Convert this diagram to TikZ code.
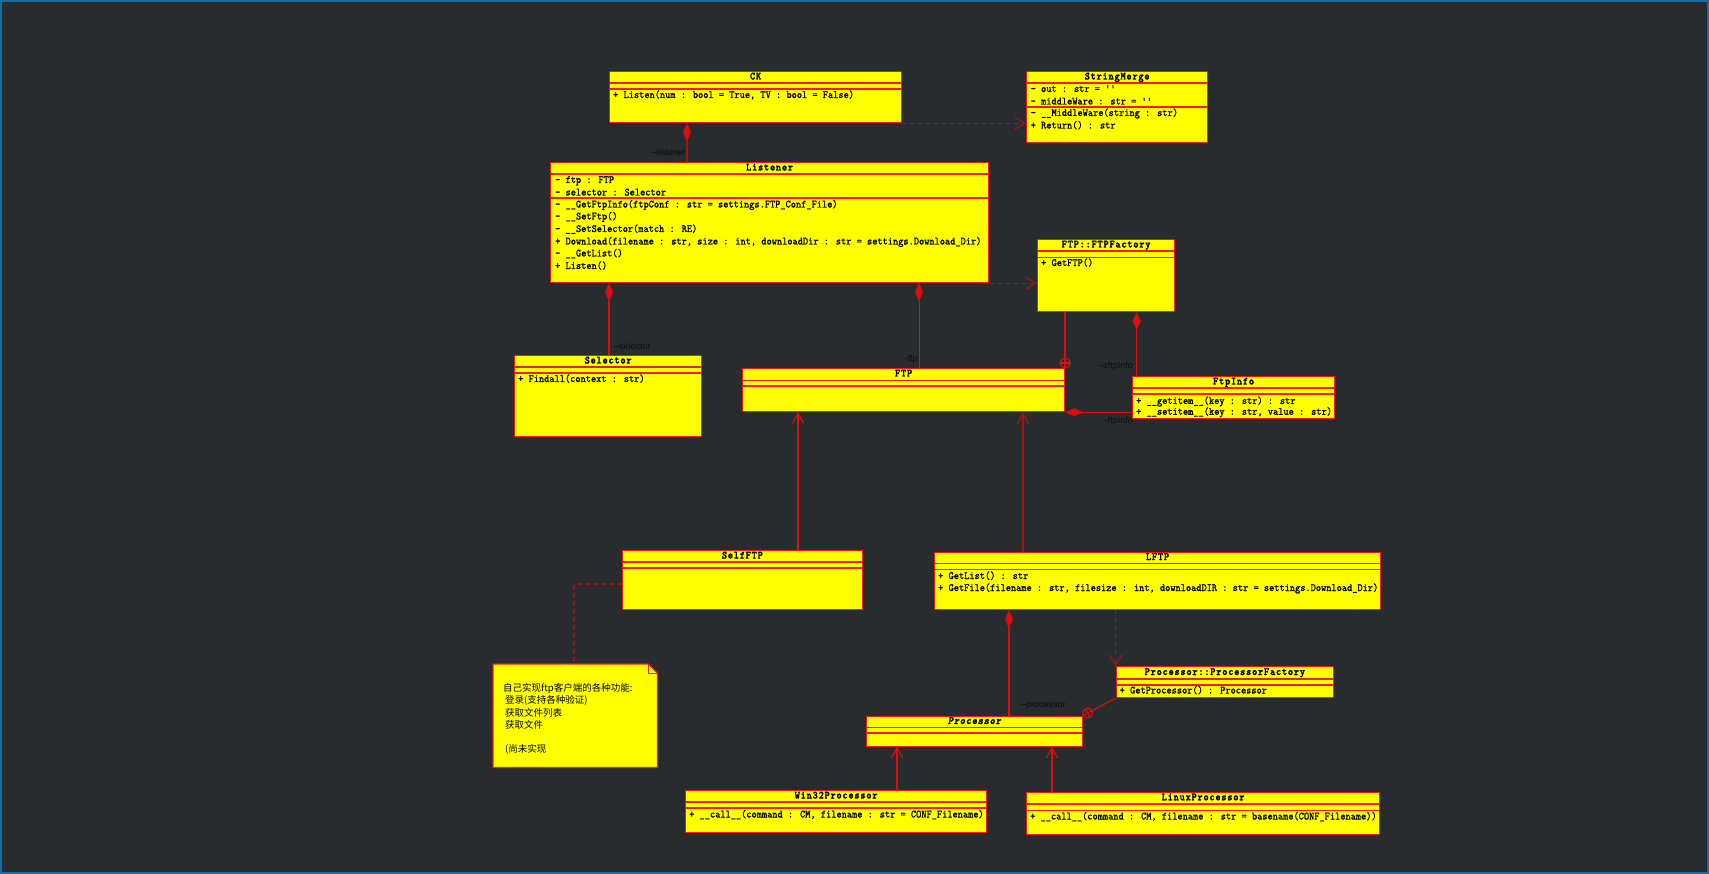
\documentclass[tikz,border=0pt]{standalone}
\usepackage{fontspec}
\usetikzlibrary{arrows.meta,calc}
\newfontfamily\cjkfont{Noto Sans CJK SC}
\newfontfamily\labfont{Liberation Sans}
\newfontfamily\umlfont[FakeStretch=0.9, FakeBold=1.2]{lmmono10-regular.otf}
\newfontfamily\umlbold[FakeStretch=0.9, FakeBold=2, LetterSpace=7]{lmmonolt10-bold.otf}
\newfontfamily\umlboldit[FakeStretch=0.9, FakeBold=2, LetterSpace=7, FakeSlant=0.2]{lmmonolt10-bold.otf}
\definecolor{bgc}{RGB}{40,44,47}
\definecolor{framec}{RGB}{22,108,165}
\definecolor{boxfill}{RGB}{255,255,0}
\definecolor{boxline}{RGB}{238,28,8}
\definecolor{connred}{RGB}{225,12,12}
\definecolor{conndark}{RGB}{160,22,22}
\definecolor{labc}{RGB}{12,12,12}
\tikzset{
 classbox/.style={draw=boxline, fill=boxfill, line width=1.2pt, inner sep=0pt, anchor=north west},
 sepline/.style={draw=boxline, line width=1.2pt},
 rowtext/.style={font=\umlfont\fontsize{11}{12}\selectfont, inner sep=0pt, anchor=west, text height=7pt, text depth=2pt, text=black},
 titletext/.style={font=\umlbold\fontsize{11}{12}\selectfont, inner sep=0pt, text height=7pt, text depth=2pt, text=black},
 roletext/.style={font=\labfont\fontsize{9}{10}\selectfont, text=labc, inner sep=0pt},
 notetext/.style={font=\cjkfont\fontsize{9.5}{11}\selectfont, text=black, inner sep=0pt, anchor=west},
 conn/.style={draw=connred, line width=1.1pt},
 compo/.style={conn, {Diamond[length=18pt,width=8pt,color=connred]}-},
 gener/.style={conn, -{Straight Barb[length=10pt,width=11pt]}},
 depend/.style={draw=conndark, line width=1.2pt, dash pattern=on 5pt off 3pt, -{Straight Barb[length=10pt,width=12pt]}},
 notelink/.style={draw=conndark, line width=1.2pt, dash pattern=on 5pt off 3pt},
}
\begin{document}
\begin{tikzpicture}[x=1pt,y=-1pt]
\useasboundingbox (0,0) rectangle (1709,874);
\fill[bgc] (0,0) rectangle (1709,874);
\draw[framec, line width=2pt] (1,1) rectangle (1708,873);

% CK
\node[classbox, minimum width=292pt, minimum height=51pt] (ck) at (609,71) {};
\draw[sepline] (ck.west |- 0,83) -- (ck.east |- 0,83);
\draw[sepline] (ck.west |- 0,89) -- (ck.east |- 0,89);
\node[titletext] (ckt) at (ck.north |- 0,77) {CK};
\node[rowtext] (ck1) at (613,95.5) {+ Listen(num : bool = True, TV : bool = False)};

% StringMerge
\node[classbox, minimum width=181pt, minimum height=71pt] (sm) at (1026,71) {};
\draw[sepline] (sm.west |- 0,83) -- (sm.east |- 0,83);
\draw[sepline] (sm.west |- 0,107) -- (sm.east |- 0,107);
\node[titletext] (smt) at (sm.north |- 0,77) {StringMerge};
\node[rowtext] (sm1) at (1030.5,89.5) {- out : str = ''};
\node[rowtext] (sm2) at (1030.5,102) {- middleWare : str = ''};
\node[rowtext] (sm3) at (1030.5,113.5) {- \_\_MiddleWare(string : str)};
\node[rowtext] (sm4) at (1030.5,126) {+ Return() : str};

% Listener
\node[classbox, minimum width=438pt, minimum height=120pt] (lis) at (550,162) {};
\draw[sepline] (lis.west |- 0,174) -- (lis.east |- 0,174);
\draw[sepline] (lis.west |- 0,198) -- (lis.east |- 0,198);
\node[titletext] (list) at (lis.north |- 0,168) {Listener};
\node[rowtext] (lis1) at (555,180.5) {- ftp : FTP};
\node[rowtext] (lis2) at (555,193) {- selector : Selector};
\node[rowtext] (lis3) at (555,205) {- \_\_GetFtpInfo(ftpConf : str = settings.FTP\_Conf\_File)};
\node[rowtext] (lis4) at (555,217) {- \_\_SetFtp()};
\node[rowtext] (lis5) at (555,229.5) {- \_\_SetSelector(match : RE)};
\node[rowtext] (lis6) at (555,242) {+ Download(filename : str, size : int, downloadDir : str = settings.Download\_Dir)};
\node[rowtext] (lis7) at (555,254) {- \_\_GetList()};
\node[rowtext] (lis8) at (555,266.5) {+ Listen()};

% FTP::FTPFactory
\node[classbox, minimum width=137pt, minimum height=72pt] (ftpf) at (1037,239) {};
\draw[sepline] (ftpf.west |- 0,251) -- (ftpf.east |- 0,251);
\draw[sepline] (ftpf.west |- 0,257.5) -- (ftpf.east |- 0,257.5);
\node[titletext] (ftpft) at (ftpf.north |- 0,245) {FTP::FTPFactory};
\node[rowtext] (ftpf1) at (1041,263.5) {+ GetFTP()};

% Selector
\node[classbox, minimum width=187pt, minimum height=81pt] (sel) at (514,355) {};
\draw[sepline] (sel.west |- 0,367) -- (sel.east |- 0,367);
\draw[sepline] (sel.west |- 0,373) -- (sel.east |- 0,373);
\node[titletext] (selt) at (sel.north |- 0,361) {Selector};
\node[rowtext] (sel1) at (518,379.5) {+ Findall(context : str)};

% FTP
\node[classbox, minimum width=322pt, minimum height=43pt] (ftp) at (742,368) {};
\draw[sepline] (ftp.west |- 0,380.5) -- (ftp.east |- 0,380.5);
\draw[sepline] (ftp.west |- 0,386) -- (ftp.east |- 0,386);
\node[titletext] (ftpt) at (ftp.north |- 0,374) {FTP};

% FtpInfo
\node[classbox, minimum width=202pt, minimum height=42pt] (fi) at (1132,376) {};
\draw[sepline] (fi.west |- 0,388) -- (fi.east |- 0,388);
\draw[sepline] (fi.west |- 0,394) -- (fi.east |- 0,394);
\node[titletext] (fit) at (fi.north |- 0,382) {FtpInfo};
\node[rowtext] (fi1) at (1136,401.5) {+ \_\_getitem\_\_(key : str) : str};
\node[rowtext] (fi2) at (1136,412.3) {+ \_\_setitem\_\_(key : str, value : str)};

% SelfFTP
\node[classbox, minimum width=240.5pt, minimum height=59pt] (self) at (621.5,550) {};
\draw[sepline] (self.west |- 0,562) -- (self.east |- 0,562);
\draw[sepline] (self.west |- 0,568) -- (self.east |- 0,568);
\node[titletext] (selft) at (self.north |- 0,556) {SelfFTP};

% LFTP
\node[classbox, minimum width=446pt, minimum height=57.5pt] (lftp) at (934,551.5) {};
\draw[sepline] (lftp.west |- 0,563.5) -- (lftp.east |- 0,563.5);
\draw[sepline] (lftp.west |- 0,569.5) -- (lftp.east |- 0,569.5);
\node[titletext] (lftpt) at (lftp.north |- 0,557.5) {LFTP};
\node[rowtext] (lftp1) at (938,576.5) {+ GetList() : str};
\node[rowtext] (lftp2) at (938,588.5) {+ GetFile(filename : str, filesize : int, downloadDIR : str = settings.Download\_Dir)};

% Note
\node[minimum width=164pt, minimum height=103pt, inner sep=0pt, anchor=north west] (note) at (493,664) {};
\filldraw[draw=boxline, fill=boxfill, line width=1.2pt] (note.north west) -- ([xshift=-9pt]note.north east) -- ([yshift=-9pt]note.north east) -- (note.south east) -- (note.south west) -- cycle;
\draw[draw=boxline, line width=1pt] ([xshift=-9pt]note.north east) -- ([xshift=-9pt,yshift=-9pt]note.north east) -- ([yshift=-9pt]note.north east);
\node[notetext] (n1) at (503,688.5) {自己实现ftp客户端的各种功能:};
\node[notetext] (n2) at (505,700.5) {登录(支持各种验证)};
\node[notetext] (n3) at (505,712.5) {获取文件列表};
\node[notetext] (n4) at (505,724.5) {获取文件};
\node[notetext] (n5) at (505,749) {(尚未实现};

% Processor::ProcessorFactory
\node[classbox, minimum width=217.5pt, minimum height=31pt] (pf) at (1115.5,666) {};
\draw[sepline] (pf.west |- 0,679) -- (pf.east |- 0,679);
\draw[sepline] (pf.west |- 0,685) -- (pf.east |- 0,685);
\node[titletext] (pft) at (pf.north |- 0,672.5) {Processor::ProcessorFactory};
\node[rowtext] (pf1) at (1119.5,691) {+ GetProcessor() : Processor};

% Processor
\node[classbox, minimum width=216.5pt, minimum height=30pt] (proc) at (865.5,715.5) {};
\draw[sepline] (proc.west |- 0,727.5) -- (proc.east |- 0,727.5);
\draw[sepline] (proc.west |- 0,733) -- (proc.east |- 0,733);
\node[titletext, font=\umlboldit\fontsize{11}{12}\selectfont] (proct) at (proc.north |- 0,721.5) {Processor};

% Win32Processor
\node[classbox, minimum width=301pt, minimum height=42pt] (w32) at (685,790) {};
\draw[sepline] (w32.west |- 0,802) -- (w32.east |- 0,802);
\draw[sepline] (w32.west |- 0,808) -- (w32.east |- 0,808);
\node[titletext] (w32t) at (w32.north |- 0,796) {Win32Processor};
\node[rowtext] (w321) at (689,815) {+ \_\_call\_\_(command : CM, filename : str = CONF\_Filename)};

% LinuxProcessor
\node[classbox, minimum width=353pt, minimum height=42.5pt] (lin) at (1026,791.5) {};
\draw[sepline] (lin.west |- 0,804) -- (lin.east |- 0,804);
\draw[sepline] (lin.west |- 0,810.5) -- (lin.east |- 0,810.5);
\node[titletext] (lint) at (lin.north |- 0,797.8) {LinuxProcessor};
\node[rowtext] (lin1) at (1030,817) {+ \_\_call\_\_(command : CM, filename : str = basename(CONF\_Filename))};

% ---------- connectors ----------
\draw[depend] (ck.south east) -- (ck.south east -| sm.west);
\draw[compo, draw=conndark] (687,0 |- ck.south) -- (687,0 |- lis.north);
\node[roletext, anchor=east] (rl) at (686,152) {–listener};

\draw[depend] (lis.south east) -- (lis.south east -| ftpf.west);

\draw[compo] (609,0 |- lis.south) -- (609,0 |- sel.north);
\node[roletext, anchor=west] (rs) at (614,346) {–selector};

\draw[compo, line width=1pt] (919,0 |- lis.south) -- (919,0 |- ftp.north);
\node[roletext, anchor=east] (rf) at (918,359) {–ftp};

\draw[conn, line width=1.5pt] (ftpf.south -| ftp.east) -- (ftp.north east);
\coordinate (fc) at ([yshift=5pt]ftp.north east);
\draw[conn] (fc) circle[radius=5pt];
\draw[conn] ([xshift=-5pt]fc) -- ([xshift=5pt]fc);

\draw[compo] (1136.7,0 |- ftpf.south) -- (1136.7,0 |- fi.north);
\node[roletext, anchor=east] (rsi) at (1133,366) {–sftpInfo};

\draw[compo] (ftp.south east) -- (ftp.south east -| fi.west);
\node[roletext, anchor=east] (rfi) at (1133,421) {–ftpInfo};

\draw[gener] (798,0 |- self.north) -- (798,0 |- ftp.south);
\draw[gener, draw=conndark, line width=1.4pt] (1023,0 |- lftp.north) -- (1023,0 |- ftp.south);

\draw[notelink] (self.west |- 0,584) -- (574,584) -- (574,0 |- note.north);

\draw[depend] (pf.north west |- lftp.south) -- (pf.north west);

\draw[compo] (1009,0 |- lftp.south) -- (1009,0 |- proc.north);
\node[roletext, anchor=west] (rp) at (1021,706) {–processor};

\draw[conn] (pf.south west) -- (proc.north east);
\coordinate (pc) at ($(proc.north east)!5pt!(pf.south west)$);
\draw[conn] (pc) circle[radius=5pt];
\draw[conn] ($(pc)!5pt!90:(pf.south west)$) -- ($(pc)!5pt!-90:(pf.south west)$);

\draw[gener] (897,0 |- w32.north) -- (897,0 |- proc.south);
\draw[gener] (1052,0 |- lin.north) -- (1052,0 |- proc.south);
\end{tikzpicture}
\end{document}
